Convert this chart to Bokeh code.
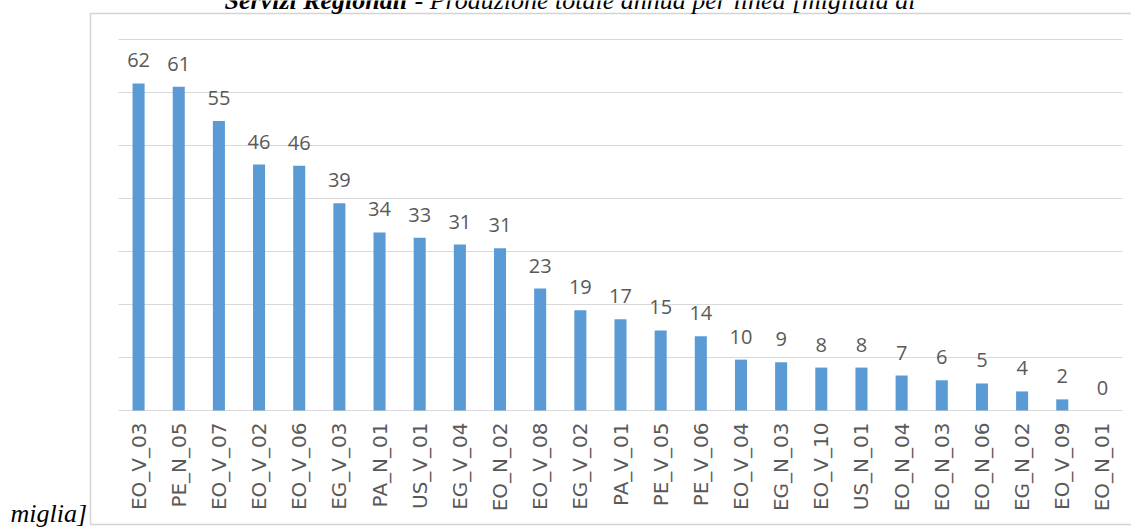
import math
import numpy as np
from bokeh.plotting import figure
from bokeh.models import ColumnDataSource, LabelSet, Label, Range1d
from bokeh.embed import file_html
from bokeh.resources import INLINE
from bokeh.core.properties import value

# ---- data ----
categories = ["EO_V_03", "PE_N_05", "EO_V_07", "EO_V_02", "EO_V_06", "EG_V_03", "PA_N_01",
              "US_V_01", "EG_V_04", "EO_N_02", "EO_V_08", "EG_V_02", "PA_V_01", "PE_V_05",
              "PE_V_06", "EO_V_04", "EG_N_03", "EO_V_10", "US_N_01", "EO_N_04", "EO_N_03",
              "EO_N_06", "EG_N_02", "EO_V_09", "EO_N_01"]
values = [61.7, 61.1, 54.6, 46.4, 46.2, 39.1, 33.6, 32.6, 31.3, 30.6, 23.0, 18.9, 17.2,
          15.1, 14.0, 9.6, 9.1, 8.1, 8.1, 6.6, 5.7, 5.1, 3.6, 2.1, 0.0]
value_labels = ["62", "61", "55", "46", "46", "39", "34", "33", "31", "31", "23", "19", "17",
                "15", "14", "10", "9", "8", "8", "7", "6", "5", "4", "2", "0"]
y_ticks = [0, 10, 20, 30, 40, 50, 60, 70]
title_bold = "Servizi Regionali"
title_rest = "- Produzione totale annua per linea [migliaia di"
title_tail = "miglia]"

# ---- layout (the whole canvas is the plotting frame) ----
W, H = 1131, 527
PL, PR, PT, PB = 118, 1122, 39, 410      # plot area in pixels
ncat = len(categories)
ymax = y_ticks[-1]
kx = (PR - PL) / ncat
ky = (PB - PT) / ymax
X0 = -PL / kx
X1 = X0 + W / kx
Y1 = ymax + PT / ky
Y0 = Y1 - H / ky


def dx(px):
    return X0 + px / kx


def dy(py):
    return Y1 - py / ky


xc = np.arange(ncat) + 0.5
src = ColumnDataSource(dict(x=xc, cat=categories, val=values, lab=value_labels,
                            zero=[0] * ncat))

p = figure(width=W, height=H, x_range=Range1d(X0, X1), y_range=Range1d(Y0, Y1),
           x_axis_type=None, y_axis_type=None,
           output_backend="svg", toolbar_location=None,
           min_border_left=0, min_border_right=0, min_border_top=0, min_border_bottom=0)
p.outline_line_color = None
p.background_fill_color = "white"
p.border_fill_color = "white"
p.grid.visible = False

# outer chart box
p.quad(left=dx(90), right=dx(1160), top=dy(13), bottom=dy(524),
       fill_color=None, line_color="#d4d4d4", line_width=1.5)

# horizontal gridlines (the 0 line doubles as category axis line)
p.segment(x0=[0] * len(y_ticks), x1=[ncat] * len(y_ticks), y0=y_ticks, y1=y_ticks,
          line_color="#d9d9d9", line_width=1)

# bars
p.vbar(x="x", top="val", width=0.3, source=src, color="#5B9BD5", line_color=None)

# value labels
p.add_layout(LabelSet(x="x", y="val", text="lab", source=src, text_align="center",
                      text_baseline="alphabetic", y_offset=16,
                      text_font=value("Open Sans"), text_font_size=value("20px"),
                      text_color=value("#595959")))

# category labels (rotated, reading bottom-to-top)
p.add_layout(LabelSet(x="x", y="zero", text="cat", source=src, angle=math.pi / 2,
                      text_align="right", text_baseline="middle", y_offset=-12,
                      text_font=value("DejaVu Sans"), text_font_size=value("20px"),
                      text_color=value("#595959")))

# title texts (wrapped around the chart as in the source document)
p.add_layout(Label(x=dx(224), y=dy(0), text=title_bold, text_font="Liberation Serif",
                   text_font_style="bold italic", text_font_size="26px",
                   text_color="black", text_baseline="alphabetic"))
p.add_layout(Label(x=dx(414), y=dy(0), text=title_rest, text_font="Liberation Serif",
                   text_font_style="italic", text_font_size="26px",
                   text_color="black", text_baseline="alphabetic"))
p.add_layout(Label(x=dx(10), y=dy(513), text=title_tail, text_font="Liberation Serif",
                   text_font_style="italic", text_font_size="26px",
                   text_color="black", text_baseline="alphabetic"))

open("out.html", "w").write(file_html(p, INLINE))
